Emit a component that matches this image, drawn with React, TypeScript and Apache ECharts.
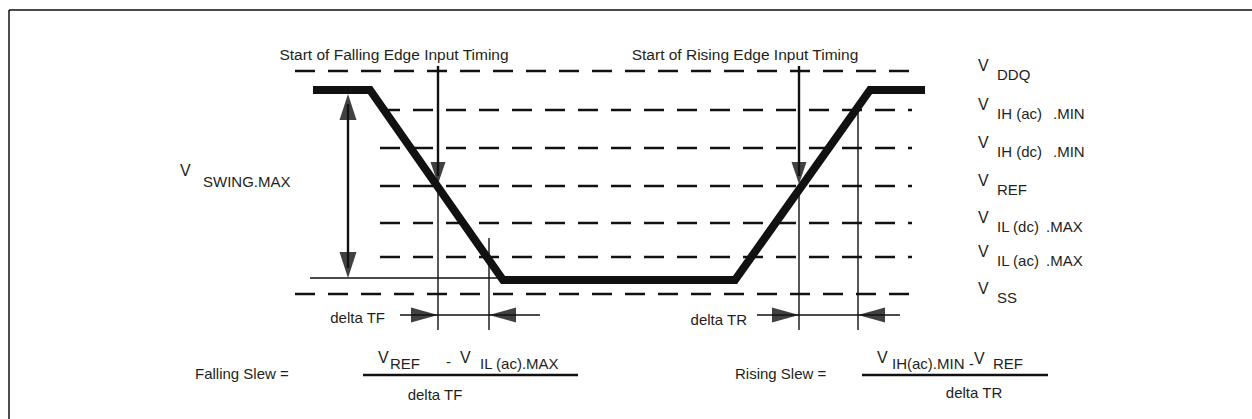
import React, { useEffect, useRef } from 'react';
import * as echarts from 'echarts';

// ---- Data (diagram units: x = time, y = level, same scale as the page) ----
const levelNames = ['DDQ', 'IH (ac)', 'IH (dc)', 'REF', 'IL (dc)', 'IL (ac)', 'SS'];
const levelSuffix = ['', '.MIN', '.MIN', '', '.MAX', '.MAX', ''];
const levelV = [71, 110, 148, 186, 223, 257, 294];
const levelStartT = [295, 380, 380, 380, 380, 380, 295];
const levelEndT = [912, 912, 912, 912, 912, 912, 912];

const waveT = [313, 370, 503, 735, 870, 925];
const waveV = [90, 90, 280, 280, 90, 90];

// timing markers: falling @VREF, falling @VIL(ac), rising @VREF, rising @VIH(ac)
const markerT = [438, 489, 799, 858];
const markerTopV = [186, 238, 186, 112];
const markerBottomV = [330, 330, 330, 330];
const startArrowTopV = 66;

const swingT = 348;
const swingTopV = 94;
const swingBottomV = 278;
const swingRefStartT = 310;
const swingRefEndT = 505;

const deltaV = 315;
const deltaOuterT = [400, 540, 757, 900];

const FONT = 'Liberation Sans, Arial, Helvetica, sans-serif';
const TXT = '#231f20';
const INK = '#111111';

type Seg = { a: number[]; b: number[]; w: number; dash?: number[] };

export default function App() {
  const ref = useRef<HTMLDivElement>(null);

  useEffect(() => {
    if (!ref.current) return;
    const chart = echarts.init(ref.current, undefined, { renderer: 'svg' });

    const segs: Seg[] = [];
    // dashed levels
    levelV.forEach((v, i) => {
      segs.push({ a: [levelStartT[i], v], b: [levelEndT[i], v], w: 2.5, dash: [20, 13] });
    });
    // marker verticals (thin)
    markerT.forEach((t, i) => {
      segs.push({ a: [t, markerTopV[i]], b: [t, markerBottomV[i]], w: 1.4 });
    });
    // start-of-timing arrow shafts
    [markerT[0], markerT[2]].forEach((t) => {
      segs.push({ a: [t, startArrowTopV], b: [t, levelV[3] - 10], w: 2.4 });
    });
    // swing arrow shaft & reference line
    segs.push({ a: [swingT, swingTopV + 10], b: [swingT, swingBottomV - 10], w: 2.4 });
    segs.push({ a: [swingRefStartT, swingBottomV], b: [swingRefEndT, swingBottomV], w: 1.4 });
    // delta arrows
    segs.push({ a: [deltaOuterT[0], deltaV], b: [markerT[0], deltaV], w: 1.4 });
    segs.push({ a: [markerT[0], deltaV], b: [markerT[1], deltaV], w: 1.4 });
    segs.push({ a: [markerT[1], deltaV], b: [deltaOuterT[1], deltaV], w: 1.4 });
    segs.push({ a: [deltaOuterT[2], deltaV], b: [markerT[2], deltaV], w: 1.4 });
    segs.push({ a: [markerT[2], deltaV], b: [markerT[3], deltaV], w: 1.4 });
    segs.push({ a: [markerT[3], deltaV], b: [deltaOuterT[3], deltaV], w: 1.4 });

    const segSeries = segs.map((s) => ({
      type: 'line',
      data: [s.a, s.b],
      symbol: 'none',
      silent: true,
      lineStyle: { color: INK, width: s.w, type: s.dash ? s.dash : 'solid', cap: 'butt' },
      z: 2,
    }));

    // arrowheads: tip, direction, width, length
    const arrows = [
      { tip: [markerT[0], levelV[3] - 2], dir: 'down', w: 15, h: 22 },
      { tip: [markerT[2], levelV[3] - 2], dir: 'down', w: 15, h: 22 },
      { tip: [swingT, swingTopV], dir: 'up', w: 17, h: 26 },
      { tip: [swingT, swingBottomV], dir: 'down', w: 17, h: 26 },
      { tip: [markerT[0], deltaV], dir: 'right', w: 15, h: 27 },
      { tip: [markerT[1], deltaV], dir: 'left', w: 15, h: 27 },
      { tip: [markerT[2], deltaV], dir: 'right', w: 15, h: 27 },
      { tip: [markerT[3], deltaV], dir: 'left', w: 15, h: 27 },
    ];
    const dirVec: Record<string, number[]> = { down: [0, 1], up: [0, -1], left: [-1, 0], right: [1, 0] };
    const dirRot: Record<string, number> = { up: 0, down: 180, left: 90, right: -90 };
    const arrowSeries = arrows.map((a) => {
      const d = dirVec[a.dir];
      const c = [a.tip[0] - (d[0] * a.h) / 2, a.tip[1] - (d[1] * a.h) / 2];
      return {
        type: 'scatter',
        data: [c],
        symbol: 'triangle',
        symbolSize: [a.w, a.h],
        symbolRotate: dirRot[a.dir],
        itemStyle: { color: INK },
        silent: true,
        z: 3,
      };
    });

    const text = (x: number, y: number, t: string, align = 'left', size = 15) => ({
      type: 'text',
      x,
      y,
      silent: true,
      style: {
        text: t,
        fill: TXT,
        font: `${size}px ${FONT}`,
        textAlign: align,
        align,
        textVerticalAlign: 'middle',
        verticalAlign: 'middle',
      },
    });

    const graphics: any[] = [];
    // frame
    graphics.push({ type: 'line', shape: { x1: 9, y1: 10, x2: 1252, y2: 10 }, style: { stroke: INK, lineWidth: 1.5 } });
    graphics.push({ type: 'line', shape: { x1: 9, y1: 10, x2: 9, y2: 419 }, style: { stroke: INK, lineWidth: 1.5 } });

    graphics.push(text(394, 54, 'Start of Falling Edge Input Timing', 'center', 15.5));
    graphics.push(text(745, 54, 'Start of Rising Edge Input Timing', 'center', 15.5));

    levelV.forEach((v, i) => {
      graphics.push(text(978, v - 6, 'V', 'left', 16));
      graphics.push(text(997, v + 3, levelNames[i]));
      if (levelSuffix[i]) {
        graphics.push(text(levelSuffix[i] === '.MIN' ? 1053 : 1046, v + 3, levelSuffix[i]));
      }
    });

    graphics.push(text(180, 170, 'V', 'left', 16));
    graphics.push(text(203, 181, 'SWING.MAX'));

    graphics.push(text(385, 317, 'delta TF', 'right'));
    graphics.push(text(747, 319, 'delta TR', 'right'));

    // Falling slew
    graphics.push(text(195, 373, 'Falling Slew ='));
    graphics.push({ type: 'line', shape: { x1: 363, y1: 375, x2: 578, y2: 375 }, style: { stroke: INK, lineWidth: 2.5 } });
    graphics.push(text(378, 357, 'V', 'left', 16));
    graphics.push(text(390, 363, 'REF'));
    graphics.push(text(446, 361, '-'));
    graphics.push(text(460, 357, 'V', 'left', 16));
    graphics.push(text(480, 363, 'IL (ac).MAX'));
    graphics.push(text(435, 394, 'delta TF', 'center'));

    // Rising slew
    graphics.push(text(735, 373, 'Rising Slew ='));
    graphics.push({ type: 'line', shape: { x1: 862, y1: 375, x2: 1048, y2: 375 }, style: { stroke: INK, lineWidth: 2.5 } });
    graphics.push(text(877, 357, 'V', 'left', 16));
    graphics.push(text(892, 363, 'IH(ac).MIN'));
    graphics.push(text(969, 363, '-'));
    graphics.push(text(974, 358, 'V', 'left', 16));
    graphics.push(text(993, 363, 'REF'));
    graphics.push(text(974, 392, 'delta TR', 'center'));

    chart.setOption({
      animation: false,
      backgroundColor: '#ffffff',
      grid: { left: 0, right: 0, top: 0, bottom: 0 },
      xAxis: { type: 'value', min: 0, max: 1252, show: false },
      yAxis: { type: 'value', min: 0, max: 419, inverse: true, show: false },
      series: [
        ...segSeries,
        {
          type: 'line',
          data: waveT.map((t, i) => [t, waveV[i]]),
          symbol: 'none',
          silent: true,
          lineStyle: { color: INK, width: 8, cap: 'butt', join: 'miter' },
          z: 4,
        },
        ...arrowSeries,
      ],
      graphic: graphics,
    });

    return () => chart.dispose();
  }, []);

  return (
    <div
      ref={ref}
      style={{ position: 'absolute', left: 0, top: 0, width: 1252, height: 419, background: '#fff' }}
    />
  );
}
